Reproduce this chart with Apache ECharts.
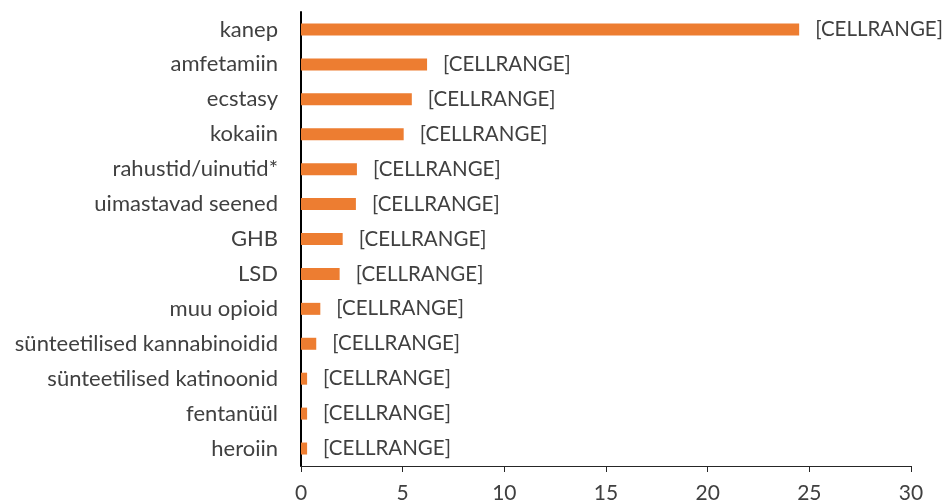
<!DOCTYPE html>
<html>
<head>
<meta charset="utf-8">
<script src="https://cdn.jsdelivr.net/npm/echarts@6/dist/echarts.min.js"></script>
<style>
html, body { margin: 0; padding: 0; background: #fff; }
#main { width: 946px; height: 504px; }
</style>
</head>
<body>
<div id="main"></div>
<script>
// kategooriad ülevalt alla
var names = ['kanep', 'amfetamiin', 'ecstasy', 'kokaiin', 'rahustid/uinutid*',
    'uimastavad seened', 'GHB', 'LSD', 'muu opioid', 'sünteetilised kannabinoidid',
    'sünteetilised katinoonid', 'fentanüül', 'heroiin'];
var counts = [24.5, 6.2, 5.45, 5.05, 2.75, 2.7, 2.05, 1.9, 0.95, 0.75, 0.3, 0.3, 0.3];
var labelText = '[CELLRANGE]';
var ticks = [0, 5, 10, 15, 20, 25, 30];

var myChart = echarts.init(document.getElementById('main'));

var option = {
    animation: false,
    textStyle: { fontFamily: 'Lato' },
    grid: { left: 301, right: 35, top: 12, bottom: 38, containLabel: false },
    xAxis: {
        type: 'value',
        min: ticks[0],
        max: ticks[ticks.length - 1],
        interval: 5,
        splitLine: { show: false },
        axisLine: { show: true, lineStyle: { color: '#262626', width: 1 } },
        axisTick: { show: true, length: 6, lineStyle: { color: '#262626' } },
        axisLabel: { fontSize: 21, color: '#404040', margin: 17, fontFamily: 'Lato' }
    },
    yAxis: {
        type: 'category',
        data: names,
        inverse: true,
        axisLine: { show: true, lineStyle: { color: '#000', width: 2 } },
        axisTick: { show: false },
        axisLabel: { fontSize: 22, color: '#404040', margin: 23, fontFamily: 'Lato' }
    },
    series: [{
        type: 'bar',
        data: counts,
        barWidth: 12,
        itemStyle: { color: '#ED7D31' },
        label: {
            show: true,
            position: 'right',
            distance: 16,
            formatter: function () { return labelText; },
            fontSize: 20.5,
            color: '#404040',
            fontFamily: 'Lato'
        }
    }]
};

myChart.setOption(option);
</script>
</body>
</html>
